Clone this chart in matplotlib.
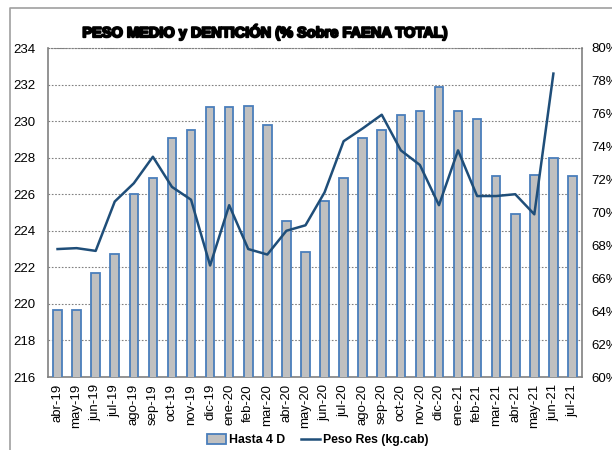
import matplotlib
matplotlib.use('Agg')
import matplotlib.pyplot as plt
import matplotlib.patheffects as pe
from matplotlib.lines import Line2D

plt.rcParams['font.family'] = ['Liberation Sans', 'DejaVu Sans']

months = ['abr-19', 'may-19', 'jun-19', 'jul-19', 'ago-19', 'sep-19', 'oct-19',
          'nov-19', 'dic-19', 'ene-20', 'feb-20', 'mar-20', 'abr-20', 'may-20',
          'jun-20', 'jul-20', 'ago-20', 'sep-20', 'oct-20', 'nov-20', 'dic-20',
          'ene-21', 'feb-21', 'mar-21', 'abr-21', 'may-21', 'jun-21', 'jul-21']

# % Hasta 4 D (right axis)
hasta_4d = [64.1, 64.1, 66.3, 67.5, 71.1, 72.1, 74.5, 75.0, 76.4, 76.4,
            76.5, 75.3, 69.5, 67.6, 70.7, 72.1, 74.5, 75.0, 75.9, 76.2,
            77.6, 76.2, 75.7, 72.2, 69.9, 72.3, 73.3, 72.2]

# Peso Res kg/cab (left axis), no value yet for jul-21
peso_res = [223.0, 223.05, 222.9, 225.6, 226.6, 228.05, 226.4, 225.7, 222.1,
            225.4, 223.0, 222.7, 224.0, 224.3, 226.1, 228.9, 229.6, 230.35,
            228.4, 227.6, 225.4, 228.4, 225.9, 225.9, 226.0, 224.9, 232.6]

x = list(range(len(months)))
x_line = x[:len(peso_res)]

fig = plt.figure(figsize=(6.12, 4.5), dpi=100)
ax = fig.add_axes([48/612, 73/450, 534/612, 329/450])

# left axis: grid + kg labels
ax.set_ylim(216, 234)
ax.set_yticks(range(216, 235, 2))
ax.set_xlim(-0.5, len(months) - 0.5)
ax.yaxis.grid(True, linestyle=(0, (1.5, 1.5)), color='#808080', lw=0.8)
ax.set_xticks(x)
ax.set_xticklabels(months, rotation=90, fontsize=9.5)
ax.tick_params(axis='both', length=0, labelsize=9.5)
ax.tick_params(axis='y', pad=9)
ax.tick_params(axis='x', pad=5)
for s in ['left', 'bottom', 'right']:
    ax.spines[s].set_color('#808080')
    ax.spines[s].set_linewidth(1.2)
ax.spines['top'].set_color('#808080')
ax.spines['top'].set_linestyle(':')

# bars on right (%) axis
ax2 = ax.twinx()
ax2.set_ylim(60, 80)
bars = ax2.bar(x, hasta_4d, width=0.45, bottom=0, color='#C0C0C0',
               edgecolor='#4A7EBB', linewidth=1.3, label='Hasta 4 D')
for s in ax2.spines.values():
    s.set_visible(False)

# line on the kg scale, drawn above bars
ax3 = ax2.twinx()
ax3.set_ylim(216, 234)
ax3.set_yticks([])
for s in ax3.spines.values():
    s.set_visible(False)
line, = ax3.plot(x_line, peso_res, color='#1F4E79', lw=1.8, label='Peso Res (kg.cab)')

# twinx moved ax2 ticks to the left, put them back
ax2.yaxis.tick_right()
ax2.yaxis.set_label_position('right')
ax2.set_yticks(range(60, 81, 2))
ax2.set_yticklabels(['%d%%' % v for v in range(60, 81, 2)])
ax2.tick_params(axis='y', length=0, labelsize=9.5, pad=7)

fig.text(0.435, 0.929, 'PESO MEDIO y DENTICIÓN (% Sobre FAENA TOTAL)',
         ha='center', va='center', fontsize=10.5, fontweight='bold',
         path_effects=[pe.withStroke(linewidth=1.4, foreground='black')])

fig.legend(handles=[bars, line], loc='center', bbox_to_anchor=(0.519, 0.022),
           ncol=2, frameon=False, prop={'weight': 'bold', 'size': 8.8},
           handlelength=1.6, handleheight=0.9, columnspacing=1.3, handletextpad=0.2)

# outer chart border (partly cropped)
fig.add_artist(Line2D([10/612, 10/612, 1], [0, 442/450, 442/450],
                      transform=fig.transFigure, color='#A0A0A0', lw=1.2))

plt.savefig('out.png', dpi=100)
